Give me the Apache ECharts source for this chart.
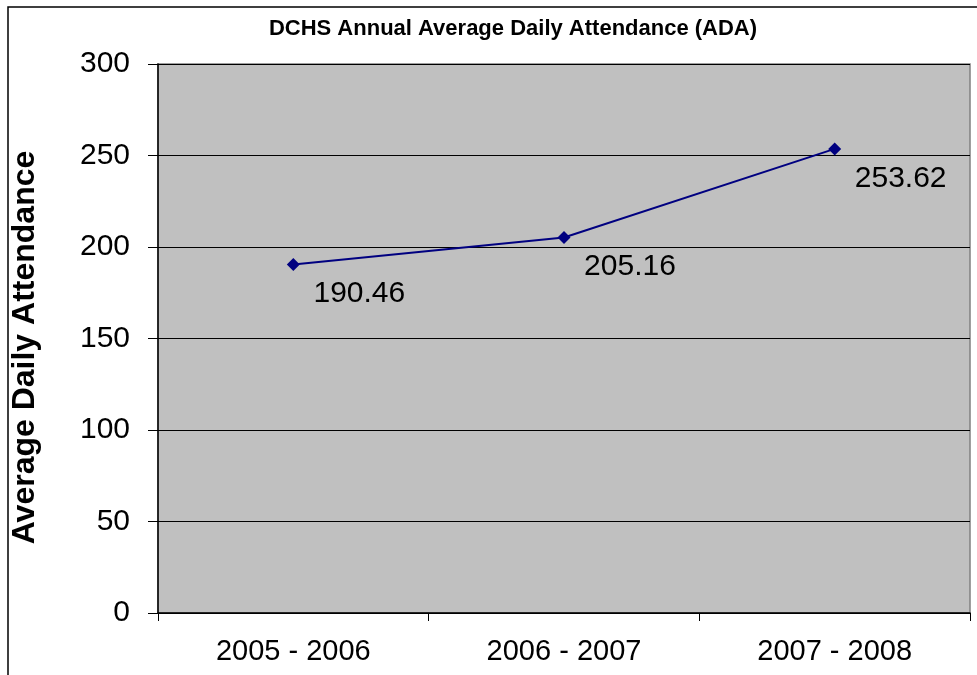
<!DOCTYPE html>
<html>
<head>
<meta charset="utf-8">
<script src="https://cdn.jsdelivr.net/npm/echarts@6/dist/echarts.min.js"></script>
<style>
  html, body { margin: 0; padding: 0; background: #ffffff; }
  #chart { width: 977px; height: 675px; }
</style>
</head>
<body>
<div id="chart"></div>
<script>
// School years and their average daily attendance
const years = ['2005 - 2006', '2006 - 2007', '2007 - 2008'];
const attendance = [190.46, 205.16, 253.62];

const chartTitle = 'DCHS Annual Average Daily Attendance (ADA)';
const yAxisTitle = 'Average Daily Attendance';

const FONT = '"Liberation Sans", Arial, sans-serif';

const chart = echarts.init(document.getElementById('chart'));

chart.setOption({
  animation: false,
  backgroundColor: '#ffffff',
  textStyle: { fontFamily: FONT },
  graphic: [{
    type: 'rect',
    shape: { x: 8, y: 7, width: 1200, height: 900 },
    style: { fill: 'none', stroke: '#000000', lineWidth: 1.5 },
    silent: true,
    z: 100
  }],
  title: {
    text: chartTitle,
    left: 508,
    textAlign: 'center',
    top: 13,
    textStyle: { fontFamily: FONT, fontSize: 22, fontWeight: 'bold', color: '#000000' }
  },
  grid: {
    left: 158, right: 7, top: 64, bottom: 62,
    show: true,
    backgroundColor: '#c0c0c0',
    borderColor: '#808080',
    borderWidth: 1.5
  },
  xAxis: {
    type: 'category',
    data: years,
    boundaryGap: true,
    axisLine: { lineStyle: { color: '#000000', width: 1.5 } },
    axisTick: { show: true, length: 8, inside: false, lineStyle: { color: '#000000' } },
    axisLabel: { fontFamily: FONT, fontSize: 29, color: '#000000', margin: 24 }
  },
  yAxis: {
    type: 'value',
    min: 0, max: 300, interval: 50,
    name: yAxisTitle,
    nameLocation: 'middle',
    nameGap: 117,
    nameTextStyle: {
      fontFamily: FONT, fontSize: 32, fontWeight: 'bold', color: '#000000',
      padding: [0, 18, 0, 0]
    },
    axisLine: { show: true, lineStyle: { color: '#000000', width: 1.5 } },
    axisTick: { show: true, length: 10, inside: false, lineStyle: { color: '#000000' } },
    axisLabel: { fontFamily: FONT, fontSize: 30, color: '#000000', margin: 28 },
    splitLine: { show: true, lineStyle: { color: '#000000', width: 1 } }
  },
  series: [{
    type: 'line',
    data: attendance,
    symbol: 'diamond',
    symbolSize: 13,
    lineStyle: { color: '#000080', width: 2 },
    itemStyle: { color: '#000080' },
    label: {
      show: true,
      position: 'bottom',
      offset: [66, 3],
      fontFamily: FONT,
      fontSize: 30,
      color: '#000000',
      formatter: p => p.value.toFixed(2)
    }
  }]
});
</script>
</body>
</html>
